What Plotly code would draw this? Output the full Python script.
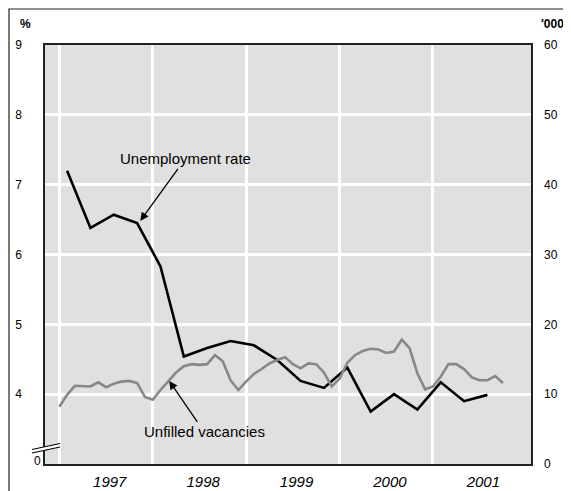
import plotly.graph_objects as go

# ---- data ----
years = [1997, 1998, 1999, 2000, 2001]
year_labels = ["1997", "1998", "1999", "2000", "2001"]

# Unfilled vacancies ('000), monthly from Jan 1997
vacancies = [8.2, 9.9, 11.2, 11.2, 11.1, 11.7, 11.0, 11.5, 11.8, 11.9, 11.6, 9.6,
             9.2, 10.6, 11.9, 13.1, 14.0, 14.3, 14.2, 14.3, 15.6, 14.7, 12.0, 10.6,
             11.8, 12.9, 13.6, 14.4, 14.9, 15.3, 14.3, 13.7, 14.4, 14.3, 13.1, 11.1,
             12.2, 14.5, 15.6, 16.2, 16.5, 16.4, 15.9, 16.1, 17.8, 16.6, 13.0, 10.7,
             11.1, 12.5, 14.3, 14.3, 13.6, 12.4, 12.0, 12.0, 12.6, 11.6]

# Unemployment rate (%), quarterly (mid-quarter) from Feb 1997
unemployment = [7.20, 6.38, 6.57, 6.45, 5.83, 4.54, 4.66, 4.76, 4.70, 4.49,
                4.19, 4.09, 4.38, 3.75, 4.00, 3.78, 4.17, 3.90, 3.99]

vac_x = [1997 + m / 12 for m in range(len(vacancies))]
une_x = [1997 + 1 / 12 + q * 0.25 for q in range(len(unemployment))]

left_ticks = [4, 5, 6, 7, 8, 9]
right_ticks = [0, 10, 20, 30, 40, 50, 60]

# ---- layout geometry (page pixels; the page body adds an 8px offset) ----
OFF = 8
W, H = 571 - OFF, 491
PL, PR, PT, PB = 45, 531, 45, 464      # plot area in page pixels
L, T = PL - OFF, PT - OFF
R = W - (PR - OFF)
B = H - (PB - OFF)
PW, PH = PR - PL, PB - PT


def px(xp):
    return (xp - PL) / PW


def py(yp):
    return (PB - yp) / PH


FONT = "Liberation Sans, Arial, sans-serif"

fig = go.Figure()
fig.add_trace(go.Scatter(x=vac_x, y=vacancies, yaxis="y2", mode="lines",
                         line=dict(color="#888888", width=2.6), showlegend=False))
fig.add_trace(go.Scatter(x=une_x, y=unemployment, yaxis="y", mode="lines",
                         line=dict(color="#000000", width=2.6), showlegend=False))

fig.update_layout(
    width=W, height=H,
    margin=dict(l=L, r=R, t=T, b=B, pad=0, autoexpand=False),
    paper_bgcolor="white",
    plot_bgcolor="#e0e0e0",
    font=dict(family=FONT, size=12, color="#000"),
    xaxis=dict(
        range=[1996.847, 2002.05], automargin=False,
        tickvals=[y + 0.54 for y in years], ticktext=year_labels,
        tickfont=dict(size=15, style="italic"),
        showgrid=False, zeroline=False, ticks="",
        ticklabelstandoff=3,
        showline=True, linecolor="#222", linewidth=1.5, mirror=True,
        minor=dict(tickvals=years, showgrid=True, gridcolor="white", gridwidth=2.6, ticks=""),
    ),
    yaxis=dict(
        range=[3, 9], tickvals=left_ticks, ticktext=[str(v) for v in left_ticks],
        automargin=False,
        showgrid=True, gridcolor="white", gridwidth=2.6, zeroline=False,
        ticks="", ticklabelstandoff=19, tickfont=dict(size=12),
        showline=True, linecolor="#222", linewidth=1.5, mirror=True,
    ),
    yaxis2=dict(
        range=[0, 60], tickvals=right_ticks, overlaying="y", side="right",
        automargin=False,
        showgrid=False, zeroline=False, ticks="", ticklabelstandoff=12,
        tickfont=dict(size=12),
    ),
)

annotations = [
    dict(text="<b>%</b>", x=px(25), y=py(24), xref="paper", yref="paper",
         showarrow=False, font=dict(size=12), xanchor="center", yanchor="middle"),
    dict(text="<b>'000</b>", x=px(552), y=py(24), xref="paper", yref="paper",
         showarrow=False, font=dict(size=12), xanchor="center", yanchor="middle"),
    dict(text="0", x=px(37), y=py(461), xref="paper", yref="paper",
         showarrow=False, font=dict(size=12), xanchor="center", yanchor="middle"),
    dict(text="Unemployment rate", x=1997 + (140 - 59) / 93.5, y=6.48, xref="x", yref="y",
         ax=45, ay=-62, showarrow=True, arrowhead=2, arrowsize=1.3, arrowwidth=1.3,
         arrowcolor="#000", font=dict(size=15)),
    dict(text="Unfilled vacancies", x=1997 + (169 - 59) / 93.5, y=11.9, xref="x", yref="y2",
         ax=35, ay=51, showarrow=True, arrowhead=2, arrowsize=1.3, arrowwidth=1.3,
         arrowcolor="#000", font=dict(size=15)),
]
fig.update_layout(annotations=annotations)

shapes = [
    # outer frame
    dict(type="rect", xref="paper", yref="paper", x0=px(9), y0=-0.3, x1=1.3, y1=py(9),
         line=dict(color="#222", width=1.2), fillcolor="rgba(0,0,0,0)", layer="above"),
    # axis break mark
    dict(type="path", xref="paper", yref="paper",
         path=f"M {px(32)} {py(449.5)} L {px(60)} {py(443.5)} L {px(60)} {py(447)} L {px(32)} {py(453)} Z",
         fillcolor="white", line=dict(width=0), layer="above"),
    dict(type="line", xref="paper", yref="paper", x0=px(32), y0=py(449.5), x1=px(60), y1=py(443.5),
         line=dict(color="#000", width=1.2), layer="above"),
    dict(type="line", xref="paper", yref="paper", x0=px(32), y0=py(453), x1=px(60), y1=py(447),
         line=dict(color="#000", width=1.2), layer="above"),
]
fig.update_layout(shapes=shapes)

fig.write_html("out.html")
